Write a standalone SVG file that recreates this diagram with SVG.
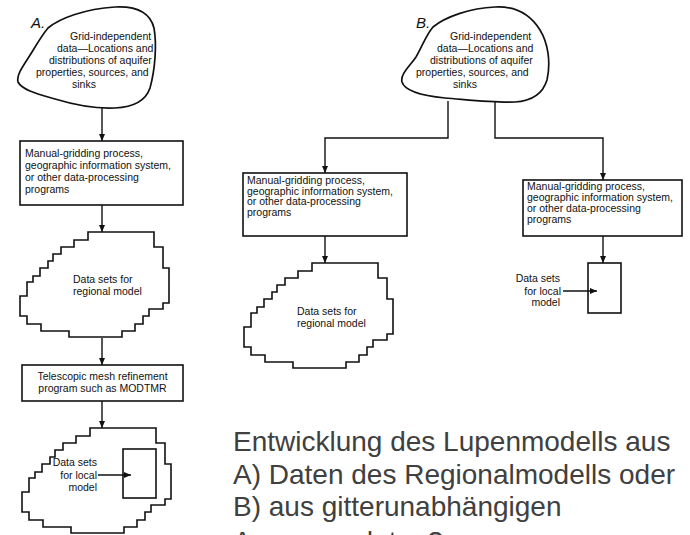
<svg xmlns="http://www.w3.org/2000/svg" width="690" height="535" viewBox="0 0 690 535">
<style>
.ol{fill:#fff;stroke:#111;stroke-width:1.6;stroke-linejoin:miter}
.cl{fill:#fff;stroke:#111;stroke-width:1.7;stroke-linejoin:round}
.ln{fill:none;stroke:#111;stroke-width:1.4}
.t{font-family:"Liberation Sans",Arial,sans-serif;font-size:10.5px;fill:#111}
.lbl{font-family:"Liberation Sans",Arial,sans-serif;font-style:italic;font-size:15px;fill:#111}
.cap{font-family:"Liberation Sans",Arial,sans-serif;font-size:28px;fill:#404040}
</style>
<defs>
<marker id="ah" markerWidth="7" markerHeight="6" refX="7" refY="3" orient="auto" markerUnits="userSpaceOnUse">
<path d="M0,0 L7,3 L0,6 Z" fill="#111"/>
</marker>
<path id="blob" d="M0,0 H66 V15 H75 V36 H81 V71 H75 V77 H61 V84 H55 V92 H47 V99 H34 V105 H-19 V99 H-47 V92 H-61 V84 H-68 V64 H-61 V50 H-55 V44 H-48 V36 H-40 V29 H-35 V22 H-27 V15 H-14 V8 H0 Z"/>
</defs>
<rect width="690" height="535" fill="#fff"/>

<g id="connectors">
<line class="ln" x1="102" y1="108" x2="102" y2="141" marker-end="url(#ah)"/>
<line class="ln" x1="102" y1="205" x2="102" y2="232" marker-end="url(#ah)"/>
<line class="ln" x1="102" y1="338" x2="102" y2="365" marker-end="url(#ah)"/>
<line class="ln" x1="102" y1="401" x2="102" y2="428" marker-end="url(#ah)"/>
<path class="ln" d="M448,101 V138 H325 V173" marker-end="url(#ah)"/>
<path class="ln" d="M495,101 V138 H603 V180" marker-end="url(#ah)"/>
<line class="ln" x1="325" y1="236" x2="325" y2="263" marker-end="url(#ah)"/>
<line class="ln" x1="603" y1="236" x2="603" y2="263" marker-end="url(#ah)"/>
</g>

<text class="lbl" x="31" y="28">A.</text>
<text class="lbl" x="416" y="28">B.</text>

<g id="cloudA">
<path class="cl" d="M48,28 C60,18 85,9 115,7 C135,6 150,12 154,28 C157,45 155,70 150,88 C146,100 135,107 115,108 C95,109 75,105 55,99 C38,94 22,90 18,82 C16,74 26,62 32,52 C38,42 43,34 48,28 Z"/>
<text class="t" x="70" y="39.5">Grid-independent</text>
<text class="t" x="57" y="52">data—Locations and</text>
<text class="t" x="49" y="64">distributions of aquifer</text>
<text class="t" x="36" y="76">properties, sources, and</text>
<text class="t" x="72" y="87.5">sinks</text>
</g>

<g id="boxA">
<rect class="ol" x="20" y="141" width="163" height="64"/>
<text class="t" x="25" y="157">Manual-gridding process,</text>
<text class="t" x="25" y="169">geographic information system,</text>
<text class="t" x="25" y="181">or other data-processing</text>
<text class="t" x="25" y="193">programs</text>
</g>

<g id="regionalA">
<use href="#blob" class="ol" transform="translate(88,232)"/>
<text class="t" x="73" y="283">Data sets for</text>
<text class="t" x="73" y="295">regional model</text>
</g>

<g id="telescopicA">
<rect class="ol" x="22" y="365" width="161" height="36"/>
<text class="t" x="102.5" y="380" text-anchor="middle">Telescopic mesh refinement</text>
<text class="t" x="102.5" y="391.5" text-anchor="middle">program such as MODTMR</text>
</g>

<g id="localA">
<use href="#blob" class="ol" transform="translate(90,428)"/>
<rect class="ol" x="123" y="449" width="33" height="49"/>
<text class="t" x="97" y="466" text-anchor="end">Data sets</text>
<text class="t" x="97" y="479" text-anchor="end">for local</text>
<text class="t" x="97" y="491" text-anchor="end">model</text>
<line class="ln" x1="98" y1="475" x2="131" y2="475" marker-end="url(#ah)"/>
</g>

<g id="cloudB">
<path class="cl" d="M433,27 C445,17 470,8 495,7 C515,6 530,14 540,30 C548,43 551,62 547,80 C543,93 532,101 515,102 C495,103 470,100 445,98 C425,96 405,92 402,82 C400,74 410,66 416,57 C422,47 426,35 433,27 Z"/>
<text class="t" x="450" y="39.5">Grid-independent</text>
<text class="t" x="437" y="52">data—Locations and</text>
<text class="t" x="430" y="64">distributions of aquifer</text>
<text class="t" x="416" y="76">properties, sources, and</text>
<text class="t" x="453" y="87.5">sinks</text>
</g>

<g id="boxB1">
<rect class="ol" x="243" y="173" width="164" height="63"/>
<text class="t" x="247" y="184">Manual-gridding process,</text>
<text class="t" x="247" y="194.5">geographic information system,</text>
<text class="t" x="247" y="205">or other data-processing</text>
<text class="t" x="247" y="215.5">programs</text>
</g>

<g id="boxB2">
<rect class="ol" x="523" y="180" width="159" height="56"/>
<text class="t" x="527" y="190">Manual-gridding process,</text>
<text class="t" x="527" y="201">geographic information system,</text>
<text class="t" x="527" y="212">or other data-processing</text>
<text class="t" x="527" y="223">programs</text>
</g>

<g id="regionalB">
<use href="#blob" class="ol" transform="translate(312,263)"/>
<text class="t" x="297" y="315">Data sets for</text>
<text class="t" x="297" y="327">regional model</text>
</g>

<g id="localB">
<rect class="ol" x="588" y="263" width="33" height="50"/>
<text class="t" x="560" y="282" text-anchor="end">Data sets</text>
<text class="t" x="561" y="294.5" text-anchor="end">for local</text>
<text class="t" x="560" y="306" text-anchor="end">model</text>
<line class="ln" x1="563" y1="291" x2="597" y2="291" marker-end="url(#ah)"/>
</g>

<g id="caption">
<text class="cap" x="233" y="451">Entwicklung des Lupenmodells aus</text>
<text class="cap" x="233" y="483.5">A) Daten des Regionalmodells oder</text>
<text class="cap" x="233" y="516">B) aus gitterunabhängigen</text>
<text class="cap" x="233" y="551">Ausgangsdaten?</text>
</g>
</svg>
